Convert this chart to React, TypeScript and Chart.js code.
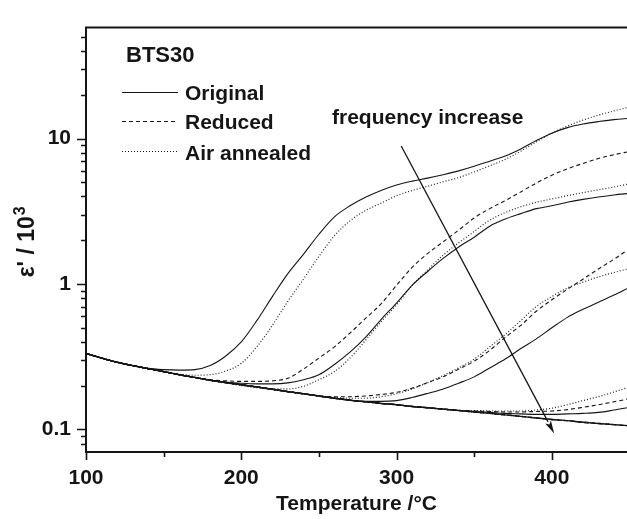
import React, { useEffect, useRef } from 'react';
import { Chart, registerables } from 'chart.js';

Chart.register(...registerables);

// Temperature grid (°C)
const temps = [100, 110, 120, 130, 140, 150, 160, 170, 180, 190, 200, 210, 220, 230, 240, 250, 260, 270, 280, 290, 300, 310, 320, 330, 340, 350, 360, 370, 380, 390, 400, 410, 420, 430, 440, 450];

// ε' / 10^3 — Original (solid), four frequencies
const origF1 = [0.333, 0.31, 0.29, 0.275, 0.263, 0.258, 0.256, 0.258, 0.275, 0.32, 0.40, 0.56, 0.82, 1.18, 1.6, 2.2, 2.9, 3.45, 3.95, 4.4, 4.8, 5.1, 5.35, 5.65, 6.0, 6.45, 7.0, 7.6, 8.5, 9.7, 10.9, 11.9, 12.6, 13.1, 13.5, 13.8];
const origF2 = [0.333, 0.31, 0.29, 0.275, 0.262, 0.25, 0.238, 0.228, 0.218, 0.212, 0.208, 0.206, 0.206, 0.209, 0.22, 0.238, 0.28, 0.34, 0.43, 0.57, 0.74, 0.98, 1.22, 1.5, 1.8, 2.1, 2.5, 2.8, 3.05, 3.3, 3.45, 3.65, 3.82, 3.97, 4.1, 4.2];
const origF3 = [0.333, 0.31, 0.29, 0.275, 0.262, 0.25, 0.238, 0.228, 0.218, 0.21, 0.203, 0.196, 0.189, 0.182, 0.176, 0.17, 0.164, 0.159, 0.156, 0.156, 0.158, 0.166, 0.177, 0.19, 0.208, 0.23, 0.265, 0.305, 0.36, 0.42, 0.5, 0.59, 0.67, 0.75, 0.84, 0.95];
const origF4 = [0.333, 0.31, 0.29, 0.275, 0.262, 0.25, 0.238, 0.228, 0.218, 0.21, 0.203, 0.196, 0.189, 0.182, 0.176, 0.17, 0.164, 0.159, 0.155, 0.151, 0.148, 0.144, 0.141, 0.138, 0.135, 0.133, 0.131, 0.129, 0.128, 0.127, 0.127, 0.128, 0.129, 0.131, 0.136, 0.142];

// Reduced (dashed)
const redF1 = [0.333, 0.31, 0.29, 0.275, 0.262, 0.25, 0.238, 0.228, 0.22, 0.216, 0.214, 0.214, 0.216, 0.225, 0.26, 0.31, 0.37, 0.46, 0.58, 0.73, 0.98, 1.3, 1.62, 1.95, 2.35, 2.85, 3.3, 3.75, 4.3, 4.95, 5.6, 6.2, 6.75, 7.3, 7.75, 8.15];
const redF2 = [0.333, 0.31, 0.29, 0.275, 0.262, 0.25, 0.238, 0.228, 0.218, 0.21, 0.203, 0.196, 0.189, 0.182, 0.176, 0.17, 0.168, 0.168, 0.17, 0.174, 0.18, 0.192, 0.21, 0.23, 0.26, 0.295, 0.35, 0.43, 0.52, 0.65, 0.78, 0.92, 1.08, 1.27, 1.48, 1.75];
const redF3 = [0.333, 0.31, 0.29, 0.275, 0.262, 0.25, 0.238, 0.228, 0.218, 0.21, 0.203, 0.196, 0.189, 0.182, 0.176, 0.17, 0.164, 0.159, 0.155, 0.151, 0.148, 0.144, 0.141, 0.138, 0.135, 0.134, 0.133, 0.132, 0.132, 0.133, 0.134, 0.137, 0.142, 0.148, 0.155, 0.163];

// Air annealed (dotted)
const airF1 = [0.333, 0.31, 0.29, 0.275, 0.262, 0.25, 0.24, 0.236, 0.238, 0.252, 0.285, 0.37, 0.52, 0.76, 1.08, 1.55, 2.15, 2.72, 3.2, 3.6, 4.05, 4.4, 4.7, 5.05, 5.4, 5.9, 6.5, 7.2, 8.2, 9.5, 10.9, 12.2, 13.4, 14.5, 15.5, 16.5];
const airF2 = [0.333, 0.31, 0.29, 0.275, 0.262, 0.25, 0.238, 0.228, 0.218, 0.21, 0.2, 0.194, 0.19, 0.19, 0.198, 0.22, 0.25, 0.31, 0.41, 0.55, 0.72, 0.98, 1.25, 1.58, 1.92, 2.3, 2.75, 3.1, 3.4, 3.65, 3.85, 4.05, 4.25, 4.45, 4.65, 4.9];
const airF3 = [0.333, 0.31, 0.29, 0.275, 0.262, 0.25, 0.238, 0.228, 0.218, 0.21, 0.203, 0.196, 0.189, 0.182, 0.176, 0.17, 0.166, 0.164, 0.164, 0.168, 0.176, 0.19, 0.21, 0.235, 0.265, 0.305, 0.37, 0.45, 0.56, 0.70, 0.82, 0.94, 1.03, 1.12, 1.2, 1.28];
const airF4 = [0.333, 0.31, 0.29, 0.275, 0.262, 0.25, 0.238, 0.228, 0.218, 0.21, 0.203, 0.196, 0.189, 0.182, 0.176, 0.17, 0.164, 0.159, 0.155, 0.151, 0.148, 0.144, 0.141, 0.138, 0.135, 0.135, 0.134, 0.134, 0.134, 0.136, 0.14, 0.148, 0.158, 0.168, 0.181, 0.196];

// Highest frequency: common background curve for all samples
const baseline = [0.333, 0.31, 0.29, 0.275, 0.262, 0.25, 0.238, 0.228, 0.218, 0.21, 0.203, 0.196, 0.189, 0.182, 0.176, 0.17, 0.164, 0.159, 0.155, 0.151, 0.148, 0.144, 0.141, 0.138, 0.135, 0.132, 0.129, 0.126, 0.123, 0.12, 0.117, 0.115, 0.112, 0.11, 0.108, 0.106];

// Axis ticks
const xTicks = [100, 150, 200, 250, 300, 350, 400];
const xLabels = [100, 200, 300, 400];
const yTicks = [0.08, 0.09, 0.1, 0.2, 0.3, 0.4, 0.5, 0.6, 0.7, 0.8, 0.9, 1, 2, 3, 4, 5, 6, 7, 8, 9, 10, 20, 30, 40, 50];
const yLabels = [0.1, 1, 10];

// Annotations
const yTitleMain = "ε' / 10";
const yTitleSup = '3';
const legendTitle = 'BTS30';
const legendItems = ['Original', 'Reduced', 'Air annealed'];
const arrowText = 'frequency increase';
const arrowFrom = [303, 8.9];
const arrowTo = [401.5, 0.094];

const FONT = "'Liberation Sans', Arial, Helvetica, sans-serif";
const INK = '#151515';

const styles = {
  solid: { borderDash: [] as number[], borderWidth: 1.1, borderColor: INK },
  dashed: { borderDash: [4, 3], borderWidth: 1.1, borderColor: INK },
  dotted: { borderDash: [1, 2], borderWidth: 1.2, borderColor: '#222' },
};

function series(label: string, vals: number[], kind: 'solid' | 'dashed' | 'dotted', width?: number) {
  const st = styles[kind];
  return {
    label,
    data: temps.map((t, i) => ({ x: t, y: vals[i] })),
    borderColor: st.borderColor,
    borderDash: st.borderDash,
    borderWidth: width ?? st.borderWidth,
    pointRadius: 0,
    fill: false,
    cubicInterpolationMode: 'monotone' as const,
  };
}

const overlay = {
  id: 'overlay',
  afterDraw(chart: any) {
    const { ctx, chartArea: a, scales } = chart;
    const x = scales.x;
    const y = scales.y;
    ctx.save();
    ctx.setLineDash([]);
    ctx.strokeStyle = INK;
    ctx.fillStyle = INK;

    // frame (left, bottom, top)
    ctx.lineWidth = 2;
    ctx.beginPath();
    ctx.moveTo(a.right, a.top);
    ctx.lineTo(a.left, a.top);
    ctx.lineTo(a.left, a.bottom);
    ctx.lineTo(a.right, a.bottom);
    ctx.stroke();

    // tick marks (outside)
    ctx.lineWidth = 1.6;
    ctx.beginPath();
    yTicks.forEach((v) => {
      const py = Math.round(y.getPixelForValue(v)) + 0.5;
      const len = yLabels.includes(v) ? 9 : 5;
      ctx.moveTo(a.left - len, py);
      ctx.lineTo(a.left, py);
    });
    xTicks.forEach((v) => {
      const px = Math.round(x.getPixelForValue(v)) + 0.5;
      const len = xLabels.includes(v) ? 8 : 5;
      ctx.moveTo(px, a.bottom);
      ctx.lineTo(px, a.bottom + len);
    });
    ctx.stroke();

    // y-axis title with superscript
    ctx.save();
    ctx.translate(34, (a.top + a.bottom) / 2 + 2);
    ctx.rotate(-Math.PI / 2);
    ctx.font = `bold 23px ${FONT}`;
    const w1 = ctx.measureText(yTitleMain).width;
    ctx.font = `bold 16px ${FONT}`;
    const w2 = ctx.measureText(yTitleSup).width;
    const start = -(w1 + w2 + 1) / 2;
    ctx.textAlign = 'left';
    ctx.textBaseline = 'alphabetic';
    ctx.font = `bold 23px ${FONT}`;
    ctx.fillText(yTitleMain, start, 0);
    ctx.font = `bold 16px ${FONT}`;
    ctx.fillText(yTitleSup, start + w1 + 1, -9);
    ctx.restore();

    // legend
    ctx.font = `bold 22px ${FONT}`;
    ctx.textAlign = 'left';
    ctx.textBaseline = 'alphabetic';
    ctx.fillText(legendTitle, 126, 62);
    ctx.font = `bold 21px ${FONT}`;
    const rows = [
      { y: 92.5, base: 99.5, dash: styles.solid.borderDash, w: 1.1 },
      { y: 121.5, base: 129, dash: styles.dashed.borderDash, w: 1.1 },
      { y: 151.5, base: 159.5, dash: styles.dotted.borderDash, w: 1.2 },
    ];
    rows.forEach((r, i) => {
      ctx.lineWidth = r.w;
      ctx.setLineDash(r.dash);
      ctx.beginPath();
      ctx.moveTo(122, r.y);
      ctx.lineTo(178, r.y);
      ctx.stroke();
      ctx.setLineDash([]);
      ctx.fillText(legendItems[i], 185, r.base);
    });

    // annotation text and arrow
    ctx.fillText(arrowText, 332, 124);
    const x0 = x.getPixelForValue(arrowFrom[0]);
    const y0 = y.getPixelForValue(arrowFrom[1]);
    const x1 = x.getPixelForValue(arrowTo[0]);
    const y1 = y.getPixelForValue(arrowTo[1]);
    const ang = Math.atan2(y1 - y0, x1 - x0);
    const headLen = 13;
    const headW = 3.2;
    const bx = x1 - headLen * Math.cos(ang);
    const by = y1 - headLen * Math.sin(ang);
    ctx.lineWidth = 1.3;
    ctx.beginPath();
    ctx.moveTo(x0, y0);
    ctx.lineTo(bx, by);
    ctx.stroke();
    ctx.beginPath();
    ctx.moveTo(x1, y1);
    ctx.lineTo(bx + headW * Math.sin(ang), by - headW * Math.cos(ang));
    ctx.lineTo(bx + 3 * Math.cos(ang), by + 3 * Math.sin(ang));
    ctx.lineTo(bx - headW * Math.sin(ang), by + headW * Math.cos(ang));
    ctx.closePath();
    ctx.fill();

    ctx.restore();
  },
};

export default function App() {
  const ref = useRef<HTMLCanvasElement | null>(null);

  useEffect(() => {
    if (!ref.current) return;
    const chart = new Chart(ref.current, {
      type: 'line',
      data: {
        datasets: [
          series('baseline-solid', baseline, 'solid', 1.4),
          series('baseline-dashed', baseline, 'dashed', 1.4),
          series('baseline-dotted', baseline, 'dotted', 1.4),
          series('Original f4', origF4, 'solid'),
          series('Reduced f3', redF3, 'dashed'),
          series('Air annealed f4', airF4, 'dotted'),
          series('Original f3', origF3, 'solid'),
          series('Reduced f2', redF2, 'dashed'),
          series('Air annealed f3', airF3, 'dotted'),
          series('Original f2', origF2, 'solid'),
          series('Air annealed f2', airF2, 'dotted'),
          series('Reduced f1', redF1, 'dashed'),
          series('Original f1', origF1, 'solid'),
          series('Air annealed f1', airF1, 'dotted'),
        ],
      },
      options: {
        responsive: false,
        animation: false,
        layout: { padding: { top: 13, left: 0, right: 0, bottom: 0 } },
        plugins: {
          legend: { display: false },
          tooltip: { enabled: false },
        },
        scales: {
          x: {
            type: 'linear',
            min: 100,
            max: 448.4,
            afterFit: (s: any) => {
              s.height = 67;
            },
            afterBuildTicks: (s: any) => {
              s.ticks = xTicks.map((v) => ({ value: v }));
            },
            grid: { display: false, drawTicks: false },
            border: { display: false },
            ticks: {
              autoSkip: false,
              maxRotation: 0,
              padding: 14,
              color: INK,
              font: { family: FONT, size: 21, weight: 'bold' },
              callback: (v: any) => (xLabels.includes(Number(v)) ? String(v) : ''),
            },
            title: {
              display: true,
              text: 'Temperature /°C',
              color: INK,
              font: { family: FONT, size: 21, weight: 'bold' },
              padding: { top: 0, bottom: 2 },
            },
          },
          y: {
            type: 'logarithmic',
            min: 0.07,
            max: 58,
            afterFit: (s: any) => {
              s.width = 86;
            },
            afterBuildTicks: (s: any) => {
              s.ticks = yTicks.map((v) => ({ value: v }));
            },
            grid: { display: false, drawTicks: false },
            border: { display: false },
            ticks: {
              autoSkip: false,
              padding: 15,
              color: INK,
              font: { family: FONT, size: 21, weight: 'bold' },
              callback: (v: any) => {
                const n = Number(v);
                const hit = yLabels.find((l) => Math.abs(l - n) < 1e-9);
                return hit !== undefined ? String(hit) : '';
              },
            },
            title: { display: false },
          },
        },
      },
      plugins: [overlay],
    });
    return () => chart.destroy();
  }, []);

  return (
    <div style={{ position: 'fixed', left: 0, top: 0, width: 627, height: 519, background: '#fff' }}>
      <canvas ref={ref} width={627} height={519} style={{ display: 'block' }} />
    </div>
  );
}
